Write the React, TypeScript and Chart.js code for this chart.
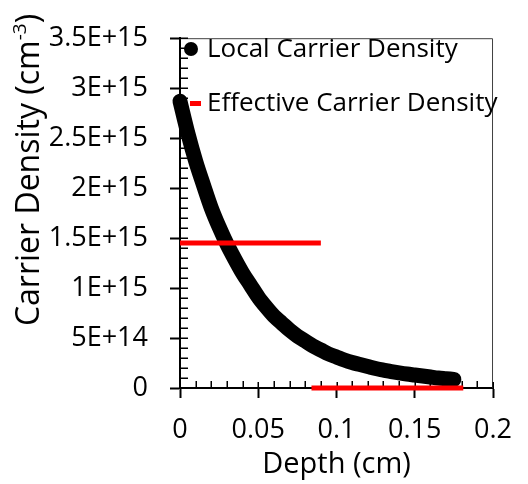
import React, { useEffect, useRef } from "react";
import { Chart, registerables } from "chart.js";

Chart.register(...registerables);

// ---- data ----
const depthCm = [
  0, 0.005, 0.01, 0.015, 0.02, 0.025, 0.03, 0.035, 0.04, 0.045, 0.05, 0.055,
  0.06, 0.065, 0.07, 0.075, 0.08, 0.085, 0.09, 0.095, 0.1, 0.105, 0.11, 0.115,
  0.12, 0.125, 0.13, 0.135, 0.14, 0.145, 0.15, 0.155, 0.16, 0.165, 0.17, 0.175,
];
const localDensity = [
  2.87e15, 2.55e15, 2.27e15, 2.03e15, 1.8e15, 1.61e15, 1.44e15, 1.29e15,
  1.15e15, 1.03e15, 0.91e15, 0.81e15, 0.72e15, 0.65e15, 0.58e15, 0.52e15,
  0.47e15, 0.42e15, 0.38e15, 0.34e15, 0.31e15, 0.28e15, 0.255e15, 0.235e15,
  0.215e15, 0.195e15, 0.18e15, 0.165e15, 0.152e15, 0.14e15, 0.13e15, 0.12e15,
  0.11e15, 0.1e15, 0.093e15, 0.086e15,
];
const effectiveDepth = [0, 0.09, 0.087, 0.084, 0.181];
const effectiveDensity: (number | null)[] = [1.45e15, 1.45e15, null, 0, 0];

const seriesNames = ["Local Carrier Density", "Effective Carrier Density"];
const xTickLabels = ["0", "0.05", "0.1", "0.15", "0.2"];
const yTickLabels = ["0", "5E+14", "1E+15", "1.5E+15", "2E+15", "2.5E+15", "3E+15", "3.5E+15"];
const xTitle = "Depth (cm)";
const yTitleMain = "Carrier Density (cm";
const yTitleSup = "-3";
const yTitleEnd = ")";

const FONT = "'Open Sans', sans-serif";

const decorPlugin = {
  id: "decor",
  beforeDatasetsDraw(chart: any) {
    const { ctx, chartArea, scales } = chart;
    const xs = scales.x;
    const ys = scales.y;
    ctx.save();
    // frame top/right
    ctx.strokeStyle = "#404040";
    ctx.lineWidth = 1;
    ctx.beginPath();
    ctx.moveTo(chartArea.left, chartArea.top + 0.5);
    ctx.lineTo(chartArea.right - 0.5, chartArea.top + 0.5);
    ctx.lineTo(chartArea.right - 0.5, chartArea.bottom);
    ctx.stroke();
    // minor ticks + inner parts of major ticks
    ctx.strokeStyle = "#000";
    ctx.lineWidth = 1.5;
    ctx.beginPath();
    for (let i = 0; i <= 35; i++) {
      const py = Math.round(ys.getPixelForValue(i * 1e14)) + 0.25;
      ctx.moveTo(chartArea.left, py);
      ctx.lineTo(chartArea.left + 8, py);
    }
    for (let i = 0; i <= 20; i++) {
      const px = Math.round(xs.getPixelForValue(i * 0.01)) + 0.25;
      const len = i % 5 === 0 ? 6 : 7;
      ctx.moveTo(px, chartArea.bottom);
      ctx.lineTo(px, chartArea.bottom - len);
    }
    ctx.stroke();
    ctx.restore();
  },
  afterDraw(chart: any) {
    const { ctx, chartArea } = chart;
    ctx.save();
    ctx.fillStyle = "#000";
    // x title
    ctx.font = `29px ${FONT}`;
    ctx.textAlign = "center";
    ctx.textBaseline = "alphabetic";
    ctx.fillText(xTitle, (chartArea.left + chartArea.right) / 2, 473);
    // y title with superscript
    ctx.translate(39, 170);
    ctx.rotate(-Math.PI / 2);
    ctx.font = `32px ${FONT}`;
    const w1 = ctx.measureText(yTitleMain).width;
    ctx.font = `19px ${FONT}`;
    const w2 = ctx.measureText(yTitleSup).width;
    ctx.font = `32px ${FONT}`;
    const w3 = ctx.measureText(yTitleEnd).width;
    const x0 = -(w1 + w2 + w3) / 2;
    ctx.textAlign = "left";
    ctx.fillText(yTitleMain, x0, 0);
    ctx.font = `19px ${FONT}`;
    ctx.fillText(yTitleSup, x0 + w1, -13);
    ctx.font = `32px ${FONT}`;
    ctx.fillText(yTitleEnd, x0 + w1 + w2, 0);
    ctx.restore();

    // legend
    ctx.save();
    ctx.font = `26px ${FONT}`;
    ctx.textBaseline = "middle";
    ctx.fillStyle = "#000";
    ctx.beginPath();
    ctx.arc(191, 49, 7, 0, Math.PI * 2);
    ctx.fill();
    ctx.fillText(seriesNames[0], 207, 50);
    ctx.fillStyle = "#ff0000";
    ctx.fillRect(190, 101, 11, 5);
    ctx.fillStyle = "#000";
    ctx.fillText(seriesNames[1], 207, 104);
    ctx.restore();
  },
};

export default function App() {
  const ref = useRef<HTMLCanvasElement | null>(null);
  useEffect(() => {
    if (!ref.current) return;
    const chart = new Chart(ref.current, {
      type: "scatter",
      data: {
        datasets: [
          {
            label: seriesNames[1],
            data: effectiveDepth.map((x, i) => ({ x, y: effectiveDensity[i] })) as any,
            showLine: true,
            borderColor: "#ff0000",
            backgroundColor: "#ff0000",
            borderWidth: 5,
            borderCapStyle: "butt",
            pointRadius: 0,
            spanGaps: false,
            order: 0,
            clip: false as any,
          },
          {
            label: seriesNames[0],
            data: depthCm.map((x, i) => ({ x, y: localDensity[i] })),
            showLine: true,
            borderColor: "#000",
            backgroundColor: "#000",
            borderWidth: 15,
            borderCapStyle: "round",
            borderJoinStyle: "round",
            pointRadius: 0,
            cubicInterpolationMode: "monotone",
            order: 1,
            clip: false as any,
          },
        ],
      },
      options: {
        animation: false,
        responsive: false,
        layout: { padding: { top: 15, right: 27, left: 0, bottom: 0 } },
        plugins: { legend: { display: false }, tooltip: { enabled: false } },
        scales: {
          x: {
            type: "linear",
            min: 0,
            max: 0.2,
            afterFit: (s: any) => {
              s.height = 96;
            },
            afterBuildTicks: (s: any) => {
              s.ticks = xTickLabels.map((_, i) => ({ value: i * 0.05 }));
            },
            ticks: {
              autoSkip: false,
              maxRotation: 0,
              padding: 16,
              color: "#000",
              font: { family: FONT, size: 27 },
              callback: (_v: any, i: number) => xTickLabels[i],
            },
            grid: {
              drawOnChartArea: false,
              tickLength: 10,
              tickWidth: 2,
              tickColor: "#000",
            },
            border: { color: "#000", width: 2 },
          },
          y: {
            type: "linear",
            min: 0,
            max: 3.5e15,
            afterFit: (s: any) => {
              s.width = 180;
            },
            afterBuildTicks: (s: any) => {
              s.ticks = yTickLabels.map((_, i) => ({ value: i * 5e14 }));
            },
            ticks: {
              autoSkip: false,
              padding: 22,
              color: "#000",
              font: { family: FONT, size: 27 },
              callback: (_v: any, i: number) => yTickLabels[i],
            },
            grid: {
              drawOnChartArea: false,
              tickLength: 10,
              tickWidth: 2,
              tickColor: "#000",
            },
            border: { color: "#000", width: 2 },
          },
        },
      },
      plugins: [decorPlugin],
    });
    return () => chart.destroy();
  }, []);
  return (
    <div style={{ position: "fixed", left: 0, top: 0, width: 528, height: 484, background: "#fff" }}>
      <canvas ref={ref} width={528} height={484} />
    </div>
  );
}
